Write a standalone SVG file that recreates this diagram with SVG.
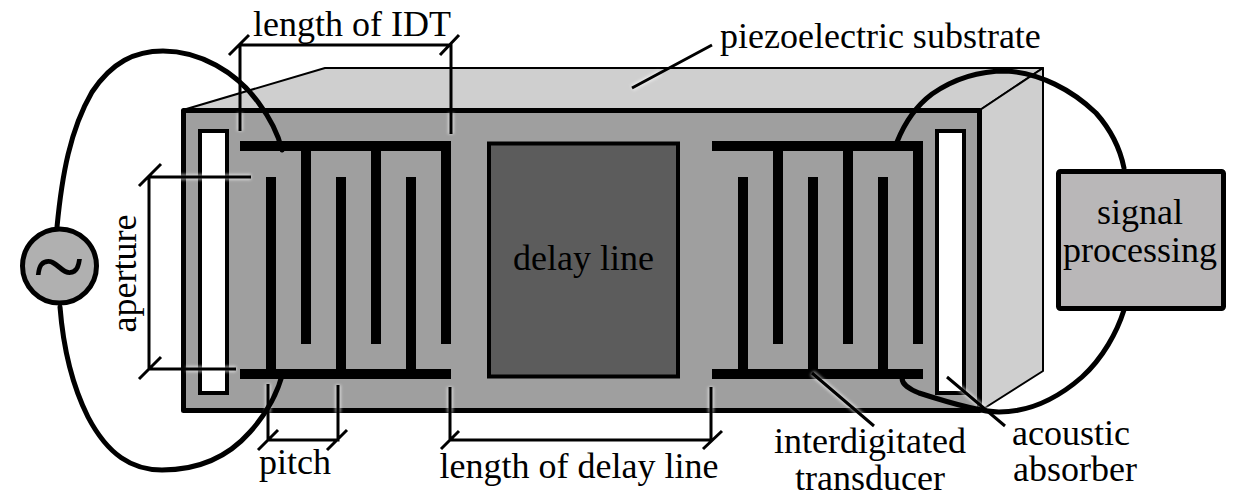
<svg xmlns="http://www.w3.org/2000/svg" width="1248" height="500" viewBox="0 0 1248 500">
<style>
text{font-family:"Liberation Serif","Times New Roman",serif;font-size:36px;fill:#000}
.m{text-anchor:middle}
.f{fill:#000;stroke:none}
.d{fill:none;stroke:#000;stroke-width:3}
.h{fill:none;stroke:#fff;stroke-width:6;opacity:.55;filter:url(#b)}
.w{fill:none;stroke:#000;stroke-width:5;stroke-linecap:round;stroke-linejoin:round}
</style>
<defs>
<filter id="b" x="-20%" y="-20%" width="140%" height="140%" filterUnits="userSpaceOnUse"><feGaussianBlur stdDeviation="1.5"/></filter>
<path id="idt-shape" d="M0 0H211V10H0ZM0 228H211V238H0ZM61 10H71V203H61ZM131 10H141V203H131ZM201 10H211V203H201ZM26 36H36V228H26ZM96 36H106V228H96ZM166 36H176V228H166Z"/>
</defs>
<rect width="1248" height="500" fill="#fff"/>
<g id="substrate">
<path d="M183 110L325 68H1043L980 110Z" fill="#cfcfcf" stroke="#000" stroke-width="2" stroke-linejoin="round"/>
<path d="M980 110L1043 68V371L980 411Z" fill="#cfcfcf" stroke="#000" stroke-width="2" stroke-linejoin="round"/>
<rect x="183.500" y="110.500" width="796" height="300" fill="#9f9f9f" stroke="#000" stroke-width="5" stroke-linejoin="round"/>
</g>
<g id="absorber-left"><rect x="200" y="131" width="27" height="262" fill="#fff" stroke="#000" stroke-width="4"/></g>
<g id="absorber-right"><rect x="937" y="131" width="27" height="262" fill="#fff" stroke="#000" stroke-width="4"/></g>
<g id="idt-left"><use href="#idt-shape" x="240" y="141" class="f"/></g>
<g id="idt-right"><use href="#idt-shape" x="712" y="141" class="f"/></g>
<g id="delay-line">
<rect x="489" y="143.500" width="189" height="233" fill="#5c5c5c" stroke="#000" stroke-width="4"/>
<text class="m" x="583.500" y="270">delay line</text>
</g>
<g id="source">
<circle cx="59.500" cy="266" r="37" fill="#b0b0b0" stroke="#000" stroke-width="5"/>
<text class="m" x="59" y="298" style="font-size:95px">~</text>
</g>
<g id="signal-processing">
<rect x="1058.500" y="171.500" width="165" height="137" rx="2" fill="#b9b7b8" stroke="#000" stroke-width="5" stroke-linejoin="round"/>
<text class="m" x="1140" y="224">signal</text>
<text class="m" x="1140" y="262">processing</text>
</g>
<g id="connectors">
<g class="halo">
<path class="h" d="M240 113V131M451 113V134M149 177H251M186 369H236M268 384V413M338 385V413M450 387V413M711 387V413M812 373L874 426M947 377L1005 426M632 88L660 73"/>
</g>
<path class="d" d="M240 131V45H451V134M229 55L249 35M440 55L459 35"/>
<path class="d" d="M251 177H149V369H236M139 186L161 164M139 379L161 357"/>
<path class="d" d="M268 384V440H338V385M258 450L278 430M327 450L347 430"/>
<path class="d" d="M450 387V440H711V387M441 449L459 431M703 449L722 431"/>
<path class="d" d="M632 88L712 45M812 373L874 426M947 377L1005 426"/>
<path class="w" d="M57 227C62 175 70 130 92 92C112 62 135 51 163 51C200 51 236 72 258 102C270 118 278 133 282 150"/>
<path class="w" d="M60 307C63 345 72 385 88 417C108 455 132 470 162 470C198 470 228 457 250 432C268 412 278 392 283 372"/>
<path class="w" d="M897 142C905 122 916 106 932 94C955 78 980 71 1006 71C1040 73 1072 90 1096 113C1111 130 1120 148 1124 168"/>
<path class="w" d="M1124 310C1117 332 1103 358 1082 377C1058 398 1030 412 999 412C980 412 950 403 919 393C909 389 902 385 902 378"/>
</g>
<g id="labels">
<text x="253" y="36">length of IDT</text>
<text x="720" y="48">piezoelectric substrate</text>
<text class="m" transform="translate(136 273.500) rotate(-90)">aperture</text>
<text class="m" x="295" y="474">pitch</text>
<text class="m" x="579" y="478">length of delay line</text>
<text class="m" x="870" y="453">interdigitated</text>
<text class="m" x="870" y="490">transducer</text>
<text x="1012" y="445">acoustic</text>
<text x="1013" y="481">absorber</text>
</g>
</svg>
